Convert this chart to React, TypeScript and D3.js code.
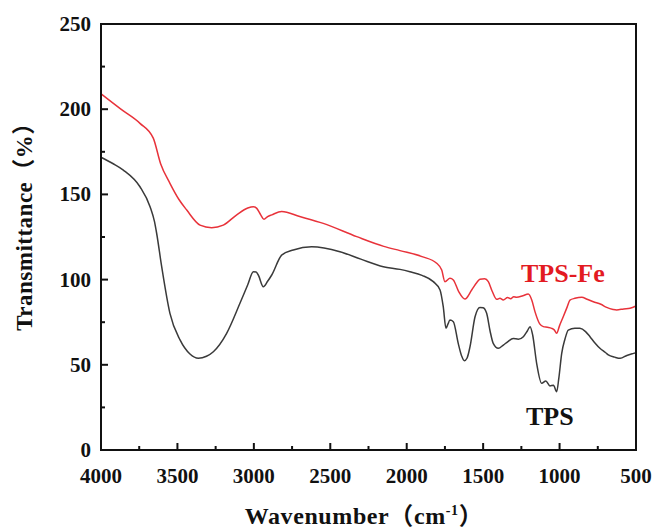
import React from "react";
import * as d3 from "d3";

const tpsFeWave = [4000,3870,3745,3658,3610,3549,3490,3439,3352,3276,3200,3112,3040,3003,2981,2955,2934,2910,2883,2818,2700,2546,2327,2150,2044,1900,1804,1771,1750,1717,1695,1660,1619,1575,1540,1521,1490,1466,1440,1411,1390,1368,1340,1320,1300,1281,1240,1205,1182,1161,1130,1106,1080,1052,1035,1019,1000,976,950,932,900,855,820,779,730,692,650,627,580,539,500];
const tpsFeValue = [209,200,191.7,183,168,156.5,147,140.8,132,130.5,132,138,142,142.8,141.8,138,135.4,137,138,139.9,137,133,125.2,119.5,117,113.5,109.6,105.6,98.8,100.8,99.8,93,88.6,93.9,98.5,100.2,100.5,98.8,93,88.4,89,88,89.5,88.8,90,89.6,90.5,91.5,88,81.2,74,72.4,72,71.4,70.5,68.5,73,78.2,84,88,89,89.6,88.5,87,85.5,83.7,82.5,82.2,82.8,83.2,84.5];

const tpsWave = [4000,3920,3854,3745,3679,3650,3636,3603,3549,3483,3418,3363,3310,3265,3178,3091,3040,3003,2985,2971,2938,2910,2883,2818,2742,2622,2437,2300,2153,2044,1979,1900,1826,1782,1761,1743,1730,1717,1695,1663,1640,1623,1605,1586,1553,1521,1500,1477,1455,1434,1401,1368,1340,1303,1270,1237,1210,1193,1176,1150,1117,1090,1063,1040,1019,1005,986,965,943,900,867,830,801,770,736,700,681,640,603,560,516,500];
const tpsValue = [171.8,168,164.3,154.5,142.8,134,127.2,107.6,80.2,64.6,56.3,53.8,55,57.7,68.5,86.1,97,104.6,104.5,102.7,95.8,99,102.7,114.4,117.4,119.3,116.4,112,107.6,106,104.6,102.5,98.8,93.9,84.1,71.4,74,76.3,75.3,62.6,55,52.4,54,60.6,78.2,83.7,83.5,80.2,70,62.6,59.7,61.6,63.5,65.5,65,66.5,70,72.4,67.5,50.9,39.1,40.5,37.6,38,34.2,42,56.7,65,70.4,71.5,71.4,69.5,66.5,63,59.7,57.2,55.8,54.5,53.8,55.5,56.7,57.1];

const xTicks = [4000, 3500, 3000, 2500, 2000, 1500, 1000, 500];
const yTicks = [0, 50, 100, 150, 200, 250];

const W = 655, H = 528;
const L = 101, R = 636, T = 24, B = 450;
const FONT = "'Times New Roman', 'Liberation Serif', 'Noto Sans CJK SC', serif";

export default function App() {
  const x = d3.scaleLinear().domain([4000, 500]).range([L, R]);
  const y = d3.scaleLinear().domain([0, 250]).range([B, T]);
  const line = d3.line<[number, number]>().x(d => x(d[0])).y(d => y(d[1])).curve(d3.curveMonotoneX);
  const fe = tpsFeWave.map((w, i) => [w, tpsFeValue[i]] as [number, number]);
  const tps = tpsWave.map((w, i) => [w, tpsValue[i]] as [number, number]);
  const xMinor = d3.range(4000, 499, -250).filter(v => !xTicks.includes(v));
  const yMinor = d3.range(0, 251, 25).filter(v => !yTicks.includes(v));

  return (
    <svg width={W} height={H} style={{ position: "absolute", left: 0, top: 0, background: "#fff" }} fontFamily={FONT}>
      <rect x={0} y={0} width={W} height={H} fill="#fff" />
      <path d={line(tps) || ""} fill="none" stroke="#3a3a3a" strokeWidth={1.5} />
      <path d={line(fe) || ""} fill="none" stroke="#e8323a" strokeWidth={1.5} />
      <rect x={L} y={T} width={R - L} height={B - T} fill="none" stroke="#111" strokeWidth={2} />
      {xTicks.map(v => (
        <g key={"xt" + v}>
          <line x1={x(v)} x2={x(v)} y1={B} y2={B - 7} stroke="#111" strokeWidth={2} />
          <text x={x(v)} y={483} textAnchor="middle" fontSize={21} fontWeight="bold" fill="#111">{v}</text>
        </g>
      ))}
      {xMinor.map(v => (
        <line key={"xm" + v} x1={x(v)} x2={x(v)} y1={B} y2={B - 4} stroke="#111" strokeWidth={2} />
      ))}
      {yTicks.map(v => (
        <g key={"yt" + v}>
          <line x1={L} x2={L + 7} y1={y(v)} y2={y(v)} stroke="#111" strokeWidth={2} />
          <text x={91} y={y(v) + 7} textAnchor="end" fontSize={21} fontWeight="bold" fill="#111">{v}</text>
        </g>
      ))}
      {yMinor.map(v => (
        <line key={"ym" + v} x1={L} x2={L + 4} y1={y(v)} y2={y(v)} stroke="#111" strokeWidth={2} />
      ))}
      <text transform="translate(32,221) rotate(-90)" textAnchor="middle" fontSize={23} fontWeight="bold" fill="#111" letterSpacing={0.5}>Transmittance（%）</text>
      <text x={364} y={524} textAnchor="middle" fontSize={24} fontWeight="bold" fill="#111" letterSpacing={0.6}>
        Wavenumber（cm<tspan dy={-9} fontSize={14}>-1</tspan><tspan dy={9}>）</tspan>
      </text>
      <text x={521} y={282} fontSize={26} fontWeight="bold" fill="#e31a22">TPS-Fe</text>
      <text x={526} y={425} fontSize={26} fontWeight="bold" fill="#111">TPS</text>
    </svg>
  );
}
